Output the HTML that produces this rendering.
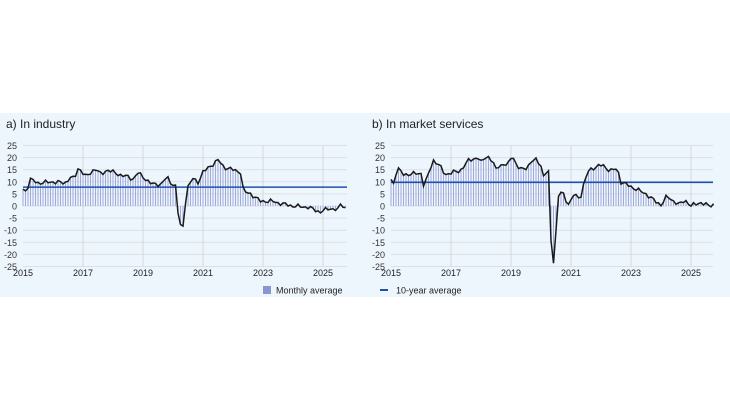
<!DOCTYPE html>
<html><head><meta charset="utf-8"><style>
body{margin:0;width:730px;height:410px;background:#fff;overflow:hidden;font-family:"Liberation Sans",sans-serif}
</style></head><body>
<svg id="s" width="730" height="410" xmlns="http://www.w3.org/2000/svg" font-family="Liberation Sans, sans-serif">
<rect x="0" y="113" width="730" height="184" fill="#eef6fd"/>
<text x="6" y="128" font-size="12" fill="#222">a)  In industry</text>
<text x="372" y="128" font-size="12" fill="#222">b)  In market services</text>
</svg>
<script>
const s=document.getElementById('s');const NS='http://www.w3.org/2000/svg';
function el(t,a,txt){const e=document.createElementNS(NS,t);for(const k in a)e.setAttribute(k,a[k]);if(txt!==undefined)e.textContent=txt;s.appendChild(e);return e;}
const Y=v=>206-v*2.42;
function interp(kp,t){for(let i=0;i<kp.length-1;i++){if(t>=kp[i][0]&&t<=kp[i+1][0]){const f=(t-kp[i][0])/(kp[i+1][0]-kp[i][0]);return kp[i][1]+f*(kp[i+1][1]-kp[i][1]);}}return kp[kp.length-1][1];}
function chart(x0,x1,kp,avg,legend){
  const X=t=>x0+(t-2015)*30;
  for(let v=-25;v<=25;v+=5){el('line',{x1:x0,x2:x1,y1:Y(v),y2:Y(v),stroke:'#dcdfe3','stroke-width':1});
    el('text',{x:x0-6,y:Y(v)+3.5,'font-size':9,'text-anchor':'end',fill:'#333'},v);}
  for(let yr=2017;yr<=2025;yr+=2)el('line',{x1:X(yr),x2:X(yr),y1:Y(25),y2:Y(-25),stroke:'#d5d8dc','stroke-width':1});
  for(let yr=2015;yr<=2025;yr+=2)el('text',{x:X(yr),y:276,'font-size':9,'text-anchor':'middle',fill:'#222'},yr);
  let pts=[];
  for(let m=0;m<130;m++){const t=2015+m/12;const v=interp(kp,t)+Math.sin(m*2.3)*0.6+Math.sin(m*5.1)*0.4;
    const x=X(t);el('line',{x1:x,x2:x,y1:Y(0),y2:Y(v),stroke:'#9ea9dc','stroke-width':1});pts.push(x.toFixed(1)+','+Y(v).toFixed(1));}
  el('line',{x1:x0,x2:x1,y1:Y(avg),y2:Y(avg),stroke:'#1f4fb0','stroke-width':1.6});
  el('polyline',{points:pts.join(' '),fill:'none',stroke:'#1a1a1a','stroke-width':1.5});
}
chart(23,347,[[2015,7],[2015.1,6],[2015.25,11],[2015.5,9.5],[2016,10],[2016.4,9.5],[2016.6,12],[2016.7,11],[2016.85,16],[2017.1,12],[2017.4,15.5],[2017.6,13],[2017.8,15],[2018.2,13],[2018.5,12],[2018.7,11],[2018.8,14],[2019,12],[2019.3,9],[2019.6,9],[2019.8,12],[2019.9,10],[2020.1,8],[2020.2,-8],[2020.35,-8.5],[2020.45,7],[2020.7,12],[2020.8,9],[2021,14],[2021.3,17],[2021.5,19],[2021.7,16],[2022,15],[2022.25,14],[2022.35,6],[2022.6,5],[2022.9,2],[2023.3,2],[2023.6,1],[2024,0],[2024.5,-0.5],[2024.9,-2.5],[2025.2,-1],[2025.5,-1.5],[2025.6,1],[2025.8,-1.5]],7.8);
chart(391,713,[[2015,11],[2015.1,9],[2015.2,16],[2015.4,13],[2016,13.5],[2016.1,8],[2016.3,15],[2016.4,19],[2016.6,17],[2016.8,13],[2017.1,14],[2017.3,14.5],[2017.6,19],[2017.9,20],[2018,18],[2018.2,21],[2018.4,18],[2018.5,15],[2018.6,17],[2018.9,17],[2019.05,21.5],[2019.2,16],[2019.4,15],[2019.6,17],[2019.8,19.5],[2020,17],[2020.1,11],[2020.2,15],[2020.25,14],[2020.35,-20],[2020.45,-24],[2020.55,3],[2020.7,6.5],[2020.8,3],[2020.95,0.5],[2021.1,5],[2021.3,3],[2021.45,10],[2021.6,15],[2021.8,16],[2022.05,17],[2022.3,14.5],[2022.55,15.5],[2022.65,10],[2023,8],[2023.5,5],[2023.8,2],[2024,0.5],[2024.2,4],[2024.6,0.5],[2024.8,2.5],[2025,0],[2025.3,1.5],[2025.6,0],[2025.8,1]],9.8);
el('rect',{x:263,y:286,width:8,height:8,fill:'#8896d0'});
el('text',{x:276,y:293.5,'font-size':9,fill:'#222'},'Monthly average');
el('line',{x1:380,x2:388,y1:290,y2:290,stroke:'#1f4fb0','stroke-width':2});
el('text',{x:396,y:293.5,'font-size':9,fill:'#222'},'10-year average');
</script>
</body></html>
